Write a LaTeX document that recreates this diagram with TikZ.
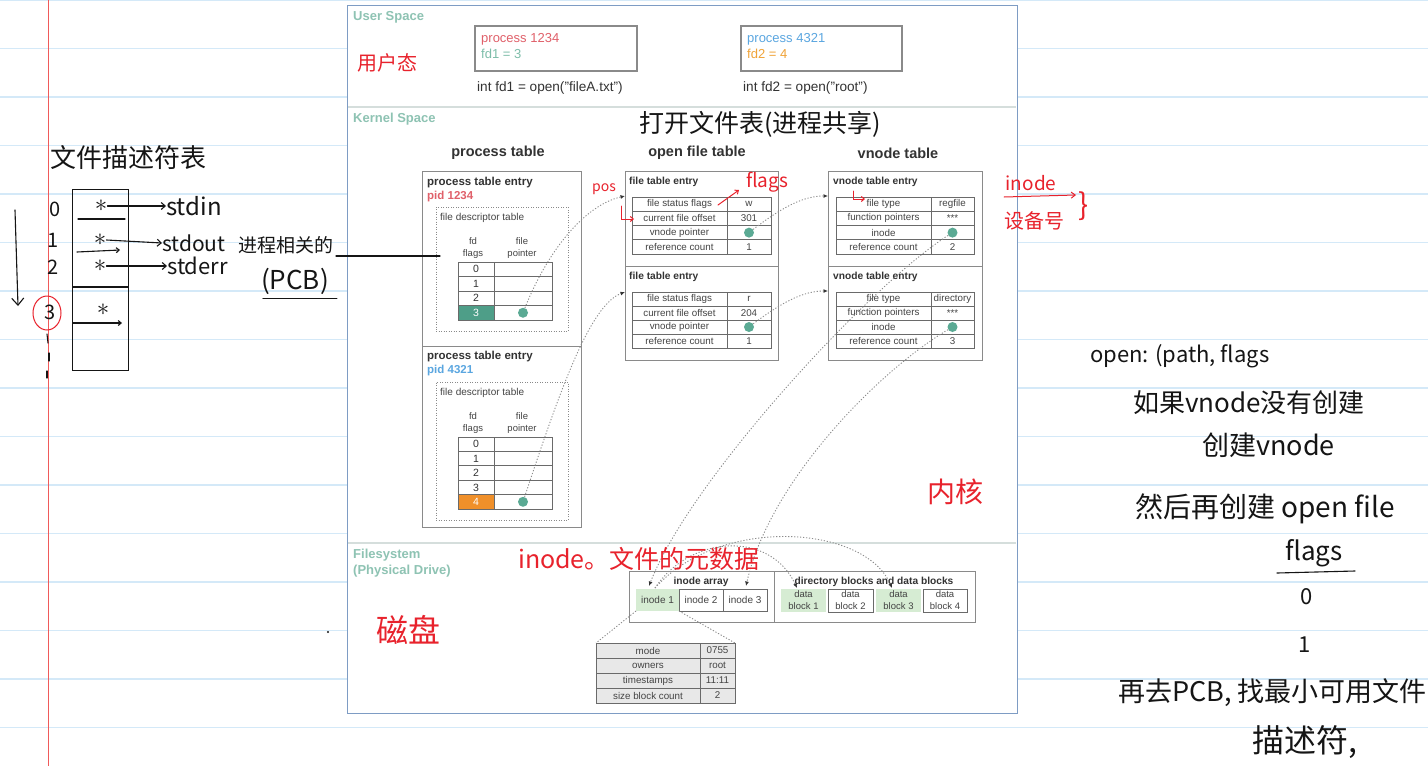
\documentclass[tikz,border=0pt]{standalone}
\usepackage{fontspec}
\setmainfont{Liberation Sans}
\newfontfamily\handf{Noto Sans CJK SC}
\usetikzlibrary{arrows.meta,shapes.geometric}
\definecolor{pageline}{HTML}{D4E9F8}
\definecolor{marginred}{HTML}{F05A5A}
\definecolor{frameblue}{HTML}{7E9CC4}
\definecolor{divgray}{HTML}{D5DEDC}
\definecolor{secteal}{HTML}{8EC3B3}
\definecolor{pidred}{HTML}{E0606A}
\definecolor{fdteal}{HTML}{7DBDA9}
\definecolor{pidblue}{HTML}{5AA6E0}
\definecolor{fdorange}{HTML}{F0A338}
\definecolor{txtdark}{HTML}{333333}
\definecolor{txtgray}{HTML}{444444}
\definecolor{cellgray}{HTML}{6A6A6A}
\definecolor{boxgray}{HTML}{8A8A8A}
\definecolor{tealfill}{HTML}{4E9E88}
\definecolor{orangefill}{HTML}{F0902A}
\definecolor{greenfill}{HTML}{D6ECD3}
\definecolor{dotteal}{HTML}{5BAA94}
\definecolor{conngray}{HTML}{8C8C8C}
\definecolor{handred}{HTML}{E8222C}
\definecolor{handblack}{HTML}{151515}
\definecolor{metafill}{HTML}{E8E8E8}
\newcommand{\fsz}[1]{\fontsize{#1}{#1}\selectfont}
\newcommand{\tcell}[7][]{\node[cell,anchor=north west,minimum width=#5,minimum height=#6,#1] (#2) at ({#3},{#4}) {#7};}
\begin{document}
\begin{tikzpicture}[x=1pt,y=-1pt,
  cell/.style={draw=cellgray,line width=0.9pt,inner sep=0pt,outer sep=0pt,font=\fsz{9.8},text=txtgray},
  tbox/.style={draw=boxgray,line width=1pt,inner sep=0pt,outer sep=0pt,anchor=north west},
  dotbox/.style={draw=boxgray,line width=1pt,dash pattern=on 1pt off 1.5pt,inner sep=0pt,outer sep=0pt,anchor=north west},
  conn/.style={draw=conngray,line width=0.9pt,dash pattern=on 1.2pt off 1.8pt,-{Latex[length=4.5pt,width=4pt,color=txtdark]}},
  link/.style={draw=conngray,line width=0.9pt,dash pattern=on 1.2pt off 1.8pt},
  dot/.style={circle,fill=dotteal,minimum size=10pt,inner sep=0pt},
  sect/.style={font=\bfseries\fsz{13},text=secteal,inner sep=0pt},
  hd/.style={font=\bfseries\fsz{14.5},text=txtdark,inner sep=0pt},
  ttl/.style={font=\bfseries\fsz{11.5},text=txtdark,inner sep=0pt},
  ttls/.style={font=\bfseries\fsz{10.2},text=txtdark,inner sep=0pt},
  sm/.style={font=\fsz{10},text=txtgray,inner sep=0pt},
  smtwo/.style={font=\fontsize{9.5}{12}\selectfont,text=txtgray,inner sep=0pt,align=center},
  blk/.style={align=center,font=\fontsize{9.5}{12}\selectfont},
  lbl/.style={inner sep=0pt,text=txtdark},
  hr/.style={inner sep=0pt,text=handred},
  hb/.style={inner sep=0pt,text=handblack},
  hredline/.style={draw=handred,line width=1pt,line cap=round},
  hblkline/.style={draw=handblack,line width=1.1pt,line cap=round},
]
\useasboundingbox (0,0) rectangle (1428,766);
\fill[white] (0,0) rectangle (1428,766);
% notebook page
\foreach \k in {0,...,15} \draw[pageline,line width=1.4pt] (0,\k*48.5) -- (1428,\k*48.5);
\draw[marginred,line width=1pt] (48.5,0) -- (48.5,766);

% ================= diagram =================
\node[draw=frameblue,fill=white,line width=1.2pt,anchor=north west,minimum width=670,minimum height=708,inner sep=0pt] (frame) at (347,5) {};
\draw[divgray,line width=1.2pt] (348,107) -- (1016,107);
\draw[divgray,line width=1.2pt] (348,543) -- (1016,543);
\node[sect,anchor=west] (secus) at (353,17) {User Space};
\node[sect,anchor=west] (secks) at (353,119) {Kernel Space};
\node[sect,anchor=west] (secfs) at (353,555) {Filesystem};
\node[sect,anchor=west] (secpd) at (353,571) {(Physical Drive)};

% user space
\node[tbox,line width=1.3pt,minimum width=162,minimum height=45] (pbox1) at (475,26) {};
\node[lbl,anchor=west,text=pidred,font=\fsz{13}] (p1name) at (481,39) {process 1234};
\node[lbl,anchor=west,text=fdteal,font=\fsz{13}] (p1fd) at (481,54) {fd1 = 3};
\node[lbl,anchor=west,font=\fsz{13.6}] (p1call) at (477,88) {int fd1 = open("fileA.txt")};
\node[tbox,line width=1.3pt,minimum width=161,minimum height=45] (pbox2) at (741,26) {};
\node[lbl,anchor=west,text=pidblue,font=\fsz{13}] (p2name) at (747,39) {process 4321};
\node[lbl,anchor=west,text=fdorange,font=\fsz{13}] (p2fd) at (747,54) {fd2 = 4};
\node[lbl,anchor=west,font=\fsz{13.6}] (p2call) at (743,88) {int fd2 = open("root")};

% headings
\node[hd] (hpt) at (498,153) {process table};
\node[hd] (hoft) at (697,153) {open file table};
\node[hd] (hvt) at (898,153) {vnode table};

% process table entry 1
\node[tbox,minimum width=159,minimum height=175] (pte1) at (422,171) {};
\node[ttl,anchor=west] (pte1t) at (427,183) {process table entry};
\node[ttl,anchor=west,text=pidred] (pte1p) at (427,197) {pid 1234};
\node[dotbox,minimum width=132,minimum height=124] (fdt1) at (436,207) {};
\node[sm,anchor=west] (fdt1t) at (440,218) {file descriptor table};
\node[smtwo] (fdt1h1) at (473,248) {fd\\flags};
\node[smtwo] (fdt1h2) at (522,248) {file\\pointer};
\foreach \i in {0,1,2} {
  \tcell[font=\fsz{10.5},text=txtdark]{pa\i}{458}{262+\i*14.5}{36}{14.5}{\i}
  \tcell{pb\i}{494}{262+\i*14.5}{58}{14.5}{}
}
\tcell[font=\fsz{10.5},fill=tealfill,text=white]{pa3}{458}{305.5}{36}{14.5}{3}
\tcell{pb3}{494}{305.5}{58}{14.5}{}
\node[dot] (ptrA) at (pb3.center) {};

% process table entry 2
\node[tbox,minimum width=159,minimum height=181] (pte2) at (422,346) {};
\node[ttl,anchor=west] (pte2t) at (427,357) {process table entry};
\node[ttl,anchor=west,text=pidblue] (pte2p) at (427,371) {pid 4321};
\node[dotbox,minimum width=132,minimum height=138] (fdt2) at (436,382) {};
\node[sm,anchor=west] (fdt2t) at (440,393) {file descriptor table};
\node[smtwo] (fdt2h1) at (473,423) {fd\\flags};
\node[smtwo] (fdt2h2) at (522,423) {file\\pointer};
\foreach \i in {0,1,2,3} {
  \tcell[font=\fsz{10.5},text=txtdark]{qa\i}{458}{437+\i*14.4}{36}{14.4}{\i}
  \tcell{qb\i}{494}{437+\i*14.4}{58}{14.4}{}
}
\tcell[font=\fsz{10.5},fill=orangefill,text=white]{qa4}{458}{494.6}{36}{14.4}{4}
\tcell{qb4}{494}{494.6}{58}{14.4}{}
\node[dot] (ptrB) at (qb4.center) {};

% open file table
\node[tbox,minimum width=153,minimum height=189] (oft) at (625,171) {};
\draw[boxgray,line width=1pt] (625,266) -- (778,266);
\node[ttls,anchor=west] (fe1t) at (629,182) {file table entry};
\node[ttls,anchor=west] (fe2t) at (629,277) {file table entry};
\foreach \lab/\val [count=\i from 0] in {file status flags/w,current file offset/301,vnode pointer/,reference count/1} {
  \tcell{fa\i}{632}{197+\i*14.25}{95}{14.25}{\lab}
  \tcell{fv\i}{727}{197+\i*14.25}{44}{14.25}{\val}
}
\foreach \lab/\val [count=\i from 0] in {file status flags/r,current file offset/204,vnode pointer/,reference count/1} {
  \tcell{ga\i}{632}{292+\i*14}{95}{14}{\lab}
  \tcell{gv\i}{727}{292+\i*14}{44}{14}{\val}
}
\node[dot] (vptr1) at (fv2.center) {};
\node[dot] (vptr2) at (gv2.center) {};

% vnode table
\node[tbox,minimum width=154,minimum height=189] (vt) at (828,171) {};
\draw[boxgray,line width=1pt] (828,266) -- (982,266);
\node[ttls,anchor=west] (ve1t) at (833,182) {vnode table entry};
\node[ttls,anchor=west] (ve2t) at (833,277) {vnode table entry};
\foreach \lab/\val [count=\i from 0] in {file type/regfile,function pointers/***,inode/,reference count/2} {
  \tcell{va\i}{836}{197+\i*14.25}{95}{14.25}{\lab}
  \tcell{vv\i}{931}{197+\i*14.25}{43}{14.25}{\val}
}
\foreach \lab/\val [count=\i from 0] in {file type/directory,function pointers/***,inode/,reference count/3} {
  \tcell{wa\i}{836}{292+\i*14}{95}{14}{\lab}
  \tcell{wv\i}{931}{292+\i*14}{43}{14}{\val}
}
\node[dot] (iptr1) at (vv2.center) {};
\node[dot] (iptr2) at (wv2.center) {};

% filesystem
\node[tbox,minimum width=346,minimum height=51] (fsbox) at (629,571) {};
\draw[boxgray,line width=1pt] (774,571) -- (774,622);
\node[ttls] (iat) at (701,582) {inode array};
\node[ttls] (dbt) at (874,582) {directory blocks and data blocks};
\tcell[draw=none,fill=greenfill,font=\fsz{10}]{ino1}{636}{589}{43}{22}{inode 1}
\tcell[font=\fsz{10}]{ino2}{679}{589}{44}{22}{inode 2}
\tcell[font=\fsz{10}]{ino3}{723}{589}{44}{22}{inode 3}
\tcell[draw=none,fill=greenfill,blk]{db1}{781}{589}{45}{23}{data\\block 1}
\tcell[blk]{db2}{828}{589}{45}{23}{data\\block 2}
\tcell[draw=none,fill=greenfill,blk]{db3}{876}{589}{45}{23}{data\\block 3}
\tcell[blk]{db4}{923}{589}{44}{23}{data\\block 4}
\foreach \lab/\val [count=\i from 0] in {mode/0755,owners/root,timestamps/11:11,size block count/2} {
  \tcell[fill=metafill]{md\i}{596}{643+\i*15}{104}{15}{\lab}
  \tcell[fill=metafill]{mv\i}{700}{643+\i*15}{35}{15}{\val}
}

% connector end points
\coordinate (fe1in) at (625,196);
\coordinate (fe2in) at (625,292);
\coordinate (vn1in) at (828,196);
\coordinate (vn2in) at (828,291);
\coordinate (ino1in) at (649,586);
\coordinate (ino3in) at (746,586);
\coordinate (ino1out) at (655,588);
\coordinate (db1in) at (797,588);
\coordinate (db3in) at (892,588);

\draw[conn] (ptrA) .. controls (548,250) and (585,205) .. (fe1in);
\draw[conn] (ptrB) .. controls (560,390) and (590,305) .. (fe2in);
\draw[conn] (vptr1) .. controls (785,205) and (805,196) .. (vn1in);
\draw[conn] (vptr2) .. controls (785,300) and (805,291) .. (vn2in);
\draw[conn] (iptr1) .. controls (870,285) and (690,480) .. (ino1in);
\draw[conn] (iptr2) .. controls (880,370) and (770,480) .. (ino3in);
\draw[conn] (ino1out) .. controls (690,535) and (770,530) .. (db1in);
\draw[conn] (ino1out) .. controls (720,515) and (865,525) .. (db3in);
\draw[link] (ino1.south west) -- (md0.north west);
\draw[link] (ino1.south east) -- (mv0.north east);

% ================= handwritten notes =================
% red annotations on the diagram
\node[hr,font=\handf\fsz{20}] (nuser) at (387,63) {用户态};
\node[hb,font=\handf\fsz{25}] (nopen) at (760,124) {打开文件表(进程共享)};
\node[hr,font=\handf\fsz{14}] (npos) at (604,189) {pos};
\coordinate (posa) at (621,206);
\coordinate (posb) at (621,219);
\coordinate (posc) at (634,219);
\draw[hredline,-{Straight Barb[length=3pt,width=5pt]}] (posa) -- (posb) -- (posc);
\node[hr,font=\handf\fsz{19}] (nflags) at (767,182) {flags};
\coordinate (fla) at (718,205);
\coordinate (flb) at (739,190);
\draw[hredline,-{Straight Barb[length=3pt,width=5pt]}] (fla) -- (flb);
\coordinate (fta) at (853,191);
\coordinate (ftb) at (853,199);
\coordinate (ftc) at (865,199);
\draw[hredline,-{Straight Barb[length=3pt,width=5pt]}] (fta) -- (ftb) -- (ftc);
\node[hr,font=\handf\fsz{19}] (ninode) at (1031,183) {inode};
\coordinate (inua) at (1004,197);
\coordinate (inub) at (1076,195);
\draw[hredline,-{Straight Barb[length=4pt,width=6pt]}] (inua) -- (inub);
\node[hr,font=\handf\fsz{30}] (nbrace) at (1084,206) {\}};
\node[hr,font=\handf\fsz{20}] (ndev) at (1034,221) {设备号};
\node[hr,font=\handf\fsz{28}] (nkern) at (955,492) {内核};
\node[hr,font=\handf\fsz{25},anchor=west] (nmeta) at (518,559) {inode。文件的元数据};
\node[hr,font=\handf\fsz{32}] (ndisk) at (408,630) {磁盘};
\fill[handblack] (328,632) circle (1.2);

% left: file descriptor table sketch
\node[hb,font=\handf\fsz{26}] (nfdt) at (128,158) {文件描述符表};
\node[draw=handblack,line width=1.1pt,anchor=north west,minimum width=56,minimum height=181,inner sep=0pt] (htab) at (72,189) {};
\draw[hblkline] (78,219) -- (125,219);
\draw[hblkline,-{Straight Barb[length=3pt,width=5pt]}] (77,252) -- (120,250);
\draw[hblkline] (73,287) -- (128,287);
\draw[hblkline,-{Straight Barb[length=3pt,width=5pt]}] (73,323) -- (122,323);
\node[hb,font=\handf\fsz{20}] (hn0) at (55,209) {0};
\node[hb,font=\handf\fsz{20}] (hn1) at (53,240) {1};
\node[hb,font=\handf\fsz{20}] (hn2) at (53,267) {2};
\node[hb,font=\handf\fsz{20}] (hn3) at (50,312) {3};
\node[draw=handred,line width=1pt,ellipse,minimum width=28,minimum height=34,inner sep=0pt] (hc3) at (47,313) {};
\draw[hblkline] (47,334) -- (48,343);
\draw[hblkline] (49,353) -- (49,361);
\draw[hblkline] (47,371) -- (47,378);
\coordinate (darra) at (15,210);
\coordinate (darrb) at (18,306);
\draw[hblkline,-{Straight Barb[length=7pt,width=12pt]}] (darra) -- (darrb);
\node[hb,font=\fsz{24}] (ast0) at (101,206) {$\ast$};
\node[hb,font=\fsz{24}] (ast1) at (100,240) {$\ast$};
\node[hb,font=\fsz{24}] (ast2) at (100,266) {$\ast$};
\node[hb,font=\fsz{24}] (ast3) at (103,310) {$\ast$};
\node[hb,font=\handf\fsz{24},anchor=west] (nstdin) at (166,206) {stdin};
\node[hb,font=\handf\fsz{21},anchor=west] (nstdout) at (162,243) {stdout};
\node[hb,font=\handf\fsz{22},anchor=west] (nstderr) at (167,266) {stderr};
\draw[hblkline,-{Straight Barb[length=4pt,width=7pt]}] (ast0.east) -- (nstdin.west);
\draw[hblkline,-{Straight Barb[length=4pt,width=7pt]}] (ast1.east) -- (nstdout.west);
\draw[hblkline,-{Straight Barb[length=4pt,width=7pt]}] (ast2.east) -- (nstderr.west);
\node[hb,font=\handf\fsz{19},anchor=west] (nproc) at (238,245) {进程相关的};
\node[hb,font=\handf\fsz{26}] (npcb) at (295,281) {(PCB)};
\draw[hblkline] (npcb.south west) ++(2,4) -- ++(74,0);
\coordinate (plinka) at (336,256);
\coordinate (plinkb) at (440,256);
\draw[hblkline] (plinka) -- (plinkb);

% right-hand notes
\node[hb,font=\handf\fsz{22},anchor=west] (r1) at (1090,356) {open: (path, flags};
\node[hb,font=\handf\fsz{26},anchor=west] (r2) at (1133,403) {如果vnode没有创建};
\node[hb,font=\handf\fsz{27},anchor=west] (r3) at (1202,445) {创建vnode};
\node[hb,font=\handf\fsz{28},anchor=west] (r4) at (1135,509) {然后再创建 open file};
\node[hb,font=\handf\fsz{26}] (r5) at (1314,553) {flags};
\draw[hblkline] (1277,573) -- (1355,571);
\node[hb,font=\handf\fsz{22}] (r6) at (1307,597) {0};
\node[hb,font=\handf\fsz{22}] (r7) at (1305,645) {1};
\node[hb,font=\handf\fsz{27},anchor=west] (r8) at (1118,693) {再去PCB, 找最小可用文件};
\node[hb,font=\handf\fsz{32},anchor=west] (r9) at (1252,742) {描述符,};
\end{tikzpicture}
\end{document}
